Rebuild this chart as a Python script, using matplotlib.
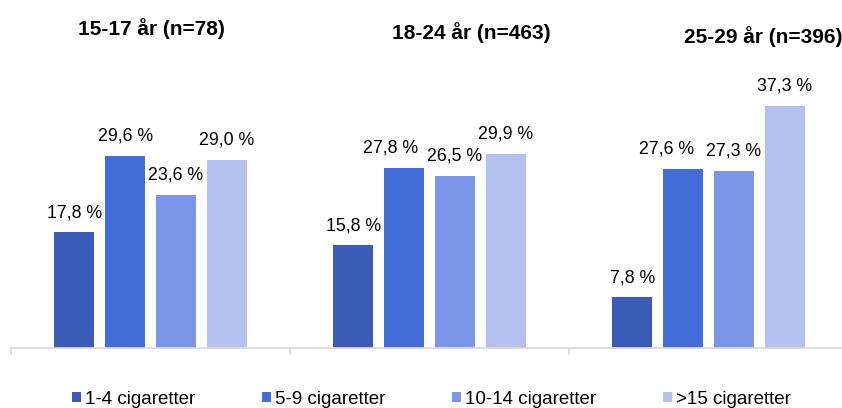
import matplotlib.pyplot as plt
import numpy as np

plt.rcParams['font.family'] = ['Liberation Sans', 'DejaVu Sans']

groups = ["15-17 år (n=78)", "18-24 år (n=463)", "25-29 år (n=396)"]
series = ["1-4 cigaretter", "5-9 cigaretter", "10-14 cigaretter", ">15 cigaretter"]
values = [
    [17.8, 15.8, 7.8],
    [29.6, 27.8, 27.6],
    [23.6, 26.5, 27.3],
    [29.0, 29.9, 37.3],
]
colors = ["#3A5BB6", "#436ED9", "#7B95E8", "#B3C0F0"]

W, H = 842, 408
fig = plt.figure(figsize=(W / 100, H / 100), dpi=100)
# axes runs past the right edge like the cropped original
ax = fig.add_axes([11 / W, 60 / H, 837 / W, 308 / H])

# labels that were pushed left in the original to avoid overlapping
nudge = {(1, 1): -14, (1, 2): -17}

x = np.arange(len(groups))
step = 0.182
width = 0.143
for i, (name, vals) in enumerate(zip(series, values)):
    pos = x + (i - 1.5) * step
    bars = ax.bar(pos, vals, width, color=colors[i], label=name)
    for j, (b, v) in enumerate(zip(bars, vals)):
        dx = nudge.get((i, j), 0) * 0.72
        ax.annotate(f"{v:.1f} %".replace(".", ","),
                    (b.get_x() + b.get_width() / 2, v),
                    xytext=(dx, 8), textcoords="offset points",
                    ha="center", va="bottom", fontsize=12.8)

ax.set_xlim(-0.5, 2.5)
ax.set_ylim(0, 47.46)
for s in ["top", "left", "right"]:
    ax.spines[s].set_visible(False)
ax.spines["bottom"].set_color("#D9D9D9")
ax.spines["bottom"].set_linewidth(1.2)
ax.set_yticks([])
ax.set_xticks([-0.5, 0.5, 1.5, 2.5])
ax.set_xticklabels([])
ax.tick_params(axis="x", direction="out", length=5, color="#D9D9D9", width=1.2)

# group titles
title_pos = [(151, 29), (471, 33), (763, 37)]
for t, (px, py) in zip(groups, title_pos):
    fig.text(px / W, 1 - py / H, t, ha="center", va="center",
             fontsize=15, fontweight="bold")

fig.legend(loc="center left", bbox_to_anchor=(72 / W, 1 - 399 / H),
           ncol=4, frameon=False, fontsize=13.5, handlelength=0.5,
           handleheight=0.5, handletextpad=0.2, columnspacing=3.55,
           borderpad=0, borderaxespad=0)

fig.savefig("out.png", dpi=100)
